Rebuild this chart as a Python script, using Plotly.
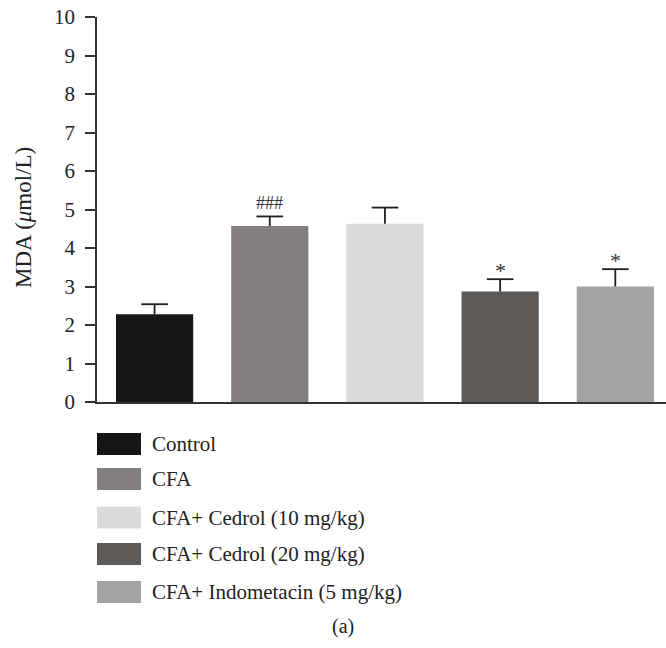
import plotly.graph_objects as go

# Group means and upper SEM for MDA
groups = ["Control", "CFA", "CFA+ Cedrol (10 mg/kg)", "CFA+ Cedrol (20 mg/kg)", "CFA+ Indometacin (5 mg/kg)"]
mda_mean = [2.28, 4.57, 4.63, 2.87, 3.00]
mda_sem = [0.26, 0.25, 0.42, 0.32, 0.45]
sig_marks = ["", "###", "", "*", "*"]
bar_colors = ["#161616", "#837f7e", "#dbdbdb", "#5d5957", "#a4a2a3"]
y_ticks = list(range(0, 11))

FONT = "Liberation Serif"
W, H = 666, 648
M_L, M_R, M_T, M_B = 97, 0, 17, 246
plot_h = H - M_T - M_B

x_idx = list(range(len(groups)))
err_top = [m + s for m, s in zip(mda_mean, mda_sem)]

fig = go.Figure()
fig.add_trace(go.Bar(
    x=x_idx,
    y=mda_mean,
    width=0.67,
    marker=dict(color=bar_colors, line=dict(width=0)),
    showlegend=False,
    hoverinfo="skip",
))

# Upward-only error bars: stems from bar top to mean+SEM, with a flat cap
stem_x, stem_y = [], []
for i, m, t in zip(x_idx, mda_mean, err_top):
    stem_x += [i, i, None]
    stem_y += [m, t, None]
fig.add_trace(go.Scatter(x=stem_x, y=stem_y, mode="lines",
                         line=dict(color="#1e1e1e", width=1.8),
                         showlegend=False, hoverinfo="skip"))
fig.add_trace(go.Scatter(x=x_idx, y=err_top, mode="markers",
                         marker=dict(symbol="line-ew", size=19,
                                     line=dict(color="#1e1e1e", width=1.8)),
                         showlegend=False, hoverinfo="skip"))

# Significance markers above the error caps
for i, t, lab in zip(x_idx, err_top, sig_marks):
    if lab:
        fig.add_annotation(x=i, y=t, text=lab, showarrow=False, yanchor="bottom",
                           yshift=-6 if lab == "*" else 1,
                           font=dict(family=FONT, size=22 if lab == "*" else 18, color="#333"))

# Legend built from swatches and labels beneath the axes
def py_to_paper(py):
    return (H - M_B - py) / plot_h

def px_to_paper(px):
    return (px - M_L) / (W - M_L - M_R)

row_centers = [444, 479, 517.5, 554, 592]
for name, col, cy in zip(groups, bar_colors, row_centers):
    fig.add_shape(type="rect", xref="paper", yref="paper",
                  x0=px_to_paper(97), x1=px_to_paper(141),
                  y0=py_to_paper(cy + 11), y1=py_to_paper(cy - 11),
                  fillcolor=col, line=dict(width=0))
    fig.add_annotation(xref="paper", yref="paper", x=px_to_paper(150), y=py_to_paper(cy),
                       xanchor="left", yanchor="middle", text=name, showarrow=False,
                       font=dict(family=FONT, size=21, color="#222"))

fig.add_annotation(xref="paper", yref="paper", x=px_to_paper(343), y=py_to_paper(626),
                   xanchor="center", yanchor="middle", text="(a)", showarrow=False,
                   font=dict(family=FONT, size=20, color="#222"))

# Y-axis title
fig.add_annotation(xref="paper", yref="paper", x=px_to_paper(23), y=py_to_paper(218),
                   xanchor="center", yanchor="middle", textangle=-90,
                   text="MDA (<i>μ</i>mol/L)", showarrow=False,
                   font=dict(family=FONT, size=23, color="#222"))

fig.update_layout(
    width=W, height=H,
    margin=dict(l=M_L, r=M_R, t=M_T, b=M_B),
    paper_bgcolor="white", plot_bgcolor="white",
    font=dict(family=FONT, color="#222"),
    xaxis=dict(range=[-0.5, 4.44], showticklabels=False, ticks="", showgrid=False,
               zeroline=False, showline=True, linecolor="#333", linewidth=1.6),
    yaxis=dict(range=[0, 10], tickvals=y_ticks, ticks="outside", ticklen=10, tickwidth=1.6,
               tickcolor="#333", showgrid=False, zeroline=False, showline=True,
               linecolor="#333", linewidth=1.6, ticklabelstandoff=6,
               tickfont=dict(family=FONT, size=21, color="#222")),
    bargap=0.33,
)

fig.write_html("out.html")
